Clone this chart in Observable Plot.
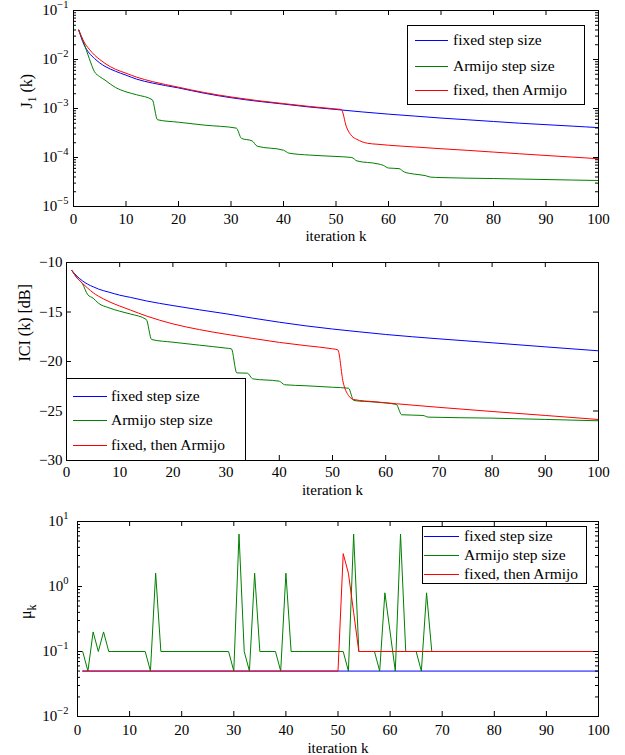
<!DOCTYPE html>
<html><head><meta charset="utf-8">
<script src="https://cdn.jsdelivr.net/npm/d3@7"></script>
<script src="https://cdn.jsdelivr.net/npm/@observablehq/plot@0.6"></script>
<style>
body{margin:0;background:#fff;}
#wrap{position:relative;width:625px;height:755px;overflow:hidden;font-family:"Liberation Serif","Times New Roman",serif;background:#fff;}
.legend{position:absolute;border:1px solid #000;background:#fff;box-sizing:border-box;}
.legend .ln{position:absolute;height:1px;}
.legend .tx{position:absolute;white-space:nowrap;font-size:15.5px;line-height:18px;color:#000;}
</style>
</head><body><div id="wrap"></div>
<script>
// ---------------- data ----------------
const seriesNames = ["fixed step size", "Armijo step size", "fixed, then Armijo"];
const seriesColors = ["#0000ff", "#008000", "#ff0000"];
const iterTicks = [0, 10, 20, 30, 40, 50, 60, 70, 80, 90, 100];
const xLabel = "iteration k";

// Panel 1: J1(k)
const J1_fixed_k = [1,2,3,4,5,6,8,10,12,15,20,25,30,35,40,45,50,55,60,65,70,75,80,85,90,95,100];
const J1_fixed = [0.0398,0.0200,0.0135,0.0105,0.00851,0.00724,0.00575,0.00479,0.00398,0.00331,0.00263,0.00204,0.00166,0.00141,0.00123,0.00107,0.000955,0.000851,0.000767,0.000700,0.000638,0.000589,0.000543,0.000501,0.000468,0.000437,0.000407];
const J1_armijo_k = [1,2,3,4,5,6,7,8,10,12,15,16,20,25,31,32,34,35,40,41,45,50,53,54,58,59,60,62,63,65,67,68,70,80,90,100];
const J1_armijo = [0.0398,0.0214,0.0105,0.00562,0.00447,0.00380,0.00316,0.00269,0.00219,0.00191,0.00151,0.000589,0.000525,0.000457,0.000398,0.000245,0.000219,0.000170,0.000141,0.000123,0.000112,0.000105,0.000100,0.0000851,0.0000741,0.0000692,0.0000610,0.0000593,0.0000506,0.0000457,0.0000427,0.0000398,0.0000389,0.0000372,0.0000355,0.0000339];
const J1_mixed_k = [1,2,3,4,5,6,8,10,12,15,20,25,30,35,40,45,50,51,52,53,54,55,56,58,60,65,70,75,80,85,90,95,100];
const J1_mixed = [0.0398,0.0229,0.0162,0.0123,0.0100,0.00832,0.00631,0.00525,0.00437,0.00355,0.00272,0.00211,0.00172,0.00145,0.00126,0.00110,0.000977,0.000955,0.000417,0.000275,0.000234,0.000209,0.000195,0.000186,0.000178,0.000164,0.000151,0.000140,0.000129,0.000119,0.000110,0.000102,0.0000944];
const J1_ticks = [1e-5, 1e-4, 1e-3, 1e-2, 1e-1];

// Panel 2: ICI(k) [dB]
const ICI_fixed_k = [1,2,3,4,5,6,8,10,12,15,20,25,30,35,40,45,50,55,60,70,80,90,100];
const ICI_fixed = [-10.8,-11.4,-11.85,-12.2,-12.45,-12.68,-13.0,-13.3,-13.52,-13.88,-14.35,-14.78,-15.18,-15.62,-16.03,-16.4,-16.72,-17.0,-17.27,-17.71,-18.11,-18.52,-18.92];
const ICI_armijo_k = [1,2,3,4,5,6,8,10,12,15,16,20,25,30,31,32,34,35,40,41,45,50,53,54,58,62,63,67,68,80,90,100];
const ICI_armijo = [-10.8,-11.58,-12.15,-13.26,-13.6,-14.11,-14.58,-14.92,-15.2,-15.76,-17.78,-18.05,-18.35,-18.65,-18.72,-21.15,-21.18,-21.75,-21.99,-22.35,-22.45,-22.6,-22.7,-23.94,-24.1,-24.34,-25.38,-25.45,-25.62,-25.72,-25.85,-25.99];
const ICI_mixed_k = [1,2,3,4,5,6,8,10,12,15,20,25,30,35,40,45,50,51,52,53,54,58,62,70,80,90,100];
const ICI_mixed = [-10.8,-11.55,-12.1,-12.6,-13.05,-13.4,-13.95,-14.4,-14.8,-15.4,-16.2,-16.78,-17.25,-17.67,-18.07,-18.4,-18.72,-18.82,-22.09,-23.43,-23.84,-24.07,-24.27,-24.63,-25.05,-25.45,-25.86];
const ICI_ticks = [-30, -25, -20, -15, -10];

// Panel 3: mu_k
const mu_fixed_k = [1, 100];
const mu_fixed = [0.05, 0.05];
const mu_armijo_k = [0,1,2,3,4,5,6,13,14,15,16,29,30,31,32,33,34,35,38,39,40,41,51,52,53,54,57,58,59,60,61,62,63,65,66,67,68,100];
const mu_armijo = [0.1,0.1,0.05,0.2,0.1,0.2,0.1,0.1,0.05,1.6,0.1,0.1,0.05,6.4,0.1,0.05,1.6,0.1,0.1,0.05,1.6,0.1,0.1,0.05,6.4,0.1,0.1,0.05,0.8,0.2,0.05,6.4,0.1,0.1,0.05,0.8,0.1,0.1];
const mu_mixed_k = [1,50,51,52,53,54,100];
const mu_mixed = [0.05,0.05,3.2,1.6,0.4,0.1,0.1];
const mu_ticks = [0.01, 0.1, 1, 10];

// ---------------- drawing ----------------
const NS = "http://www.w3.org/2000/svg";
const W = 625;
const FONT = '"Liberation Serif","Times New Roman",serif';
const zip = (ks, vs) => ks.map((k, i) => ({k, v: vs[i]}));
const minorOf = (majors) => {
  const out = [];
  for (let i = 0; i < majors.length - 1; i++) for (let m = 2; m <= 9; m++) out.push(majors[i] * m);
  return out;
};

function rich(textEl, parts) {
  textEl.textContent = "";
  let shift = 0;
  for (const [s, kind, sh, fs] of parts) {
    const t = document.createElementNS(NS, "tspan");
    t.textContent = s;
    const target = kind ? sh : 0;
    const dy = target - shift;
    if (dy) t.setAttribute("dy", dy + "px");
    if (kind) t.setAttribute("font-size", fs + "px");
    shift = target;
    textEl.appendChild(t);
  }
}

function panel(cfg) {
  const {series, top, height, mt, mb, ml, mr, yType, yDomain, yTicks, log, xPad, yPad, xlabDy, ylabel, ylabDx, curve, ylabParts} = cfg;
  const pw = W - ml - mr, ph = height - mt - mb;
  const marks = [];
  series.forEach((s, i) => marks.push(Plot.line(s, {x: "k", y: "v", stroke: seriesColors[i], strokeWidth: 1, curve})));
  marks.push(Plot.tickX(iterTicks, {x: d => d, insetTop: ph - 5, stroke: "black"}));
  marks.push(Plot.tickX(iterTicks, {x: d => d, insetBottom: ph - 5, stroke: "black"}));
  marks.push(Plot.tickY(yTicks, {y: d => d, insetRight: pw - 5, stroke: "black"}));
  marks.push(Plot.tickY(yTicks, {y: d => d, insetLeft: pw - 5, stroke: "black"}));
  if (log) {
    const mn = minorOf(yTicks);
    marks.push(Plot.tickY(mn, {y: d => d, insetRight: pw - 3, stroke: "black"}));
    marks.push(Plot.tickY(mn, {y: d => d, insetLeft: pw - 3, stroke: "black"}));
  }
  marks.push(Plot.frame({stroke: "black"}));
  marks.push(Plot.axisX({ticks: iterTicks, tickSize: 0, tickPadding: xPad, tickFormat: d => String(d), label: null}));
  marks.push(Plot.axisY({ticks: yTicks, tickSize: 0, tickPadding: yPad, label: null,
    tickFormat: log ? (d => "10^" + Math.round(Math.log10(d))) : (d => d3.format("")(d))}));
  marks.push(Plot.text([xLabel], {text: d => d, frameAnchor: "bottom", dy: xlabDy, lineAnchor: "bottom", fontSize: 15}));
  marks.push(Plot.text([ylabel], {text: d => d, frameAnchor: "left", dx: ylabDx, rotate: -90, lineAnchor: "bottom", fontSize: 16}));
  const svg = Plot.plot({
    width: W, height, marginTop: mt, marginBottom: mb, marginLeft: ml, marginRight: mr,
    x: {domain: [0, 100]},
    y: {type: yType, domain: yDomain},
    style: {fontFamily: FONT, fontSize: "15px", color: "black", background: "white"},
    marks
  });
  svg.style.position = "absolute";
  svg.style.left = "0px";
  svg.style.top = top + "px";
  if (log) {
    for (const t of svg.querySelectorAll('g[aria-label="y-axis tick label"] text')) {
      const m = t.textContent.match(/^10\^(.*)$/);
      if (!m) continue;
      rich(t, [["10", null], [m[1].replace("-", "\u2212"), "sup", -7.5, 10.5]]);
    }
  }
  if (ylabParts) {
    for (const t of svg.querySelectorAll("text")) {
      if (t.textContent === ylabel) { rich(t, ylabParts); break; }
    }
  }
  return svg;
}

const wrap = document.getElementById("wrap");

wrap.appendChild(panel({
  series: [zip(J1_fixed_k, J1_fixed), zip(J1_armijo_k, J1_armijo), zip(J1_mixed_k, J1_mixed)],
  top: 0, height: 250, mt: 10, mb: 44, ml: 73, mr: 27,
  yType: "log", yDomain: [1e-5, 1e-1], yTicks: J1_ticks, log: true,
  xPad: 7, yPad: 5, xlabDy: 34, ylabel: "J1(k)", ylabDx: -42, curve: "monotone-x",
  ylabParts: [["J", null], ["1", "sub", 4, 11.5], [" (k)", null]]
}));

wrap.appendChild(panel({
  series: [zip(ICI_fixed_k, ICI_fixed), zip(ICI_armijo_k, ICI_armijo), zip(ICI_mixed_k, ICI_mixed)],
  top: 250, height: 250, mt: 12, mb: 40, ml: 66, mr: 27,
  yType: "linear", yDomain: [-30, -10], yTicks: ICI_ticks, log: false,
  xPad: 6, yPad: 4, xlabDy: 34, ylabel: "ICI (k) [dB]", ylabDx: -37, curve: "monotone-x"
}));

wrap.appendChild(panel({
  series: [zip(mu_fixed_k, mu_fixed), zip(mu_armijo_k, mu_armijo), zip(mu_mixed_k, mu_mixed)],
  top: 500, height: 255, mt: 21, mb: 39, ml: 77, mr: 27,
  yType: "log", yDomain: [1e-2, 1e1], yTicks: mu_ticks, log: true,
  xPad: 8, yPad: 9, xlabDy: 36, ylabel: "\u03bck", ylabDx: -47, curve: "linear",
  ylabParts: [["\u03bc", null], ["k", "sub", 5, 12]]
}));

// ---------------- legends (HTML overlays) ----------------
function legend(box, rows, lineX1, lineX2, textX) {
  const d = document.createElement("div");
  d.className = "legend";
  d.style.left = box[0] + "px"; d.style.top = box[1] + "px";
  d.style.width = box[2] + "px"; d.style.height = box[3] + "px";
  rows.forEach((ry, i) => {
    const ln = document.createElement("div");
    ln.className = "ln";
    ln.style.background = seriesColors[i];
    ln.style.left = Math.round(lineX1 - box[0] - 1) + "px";
    ln.style.width = Math.round(lineX2 - lineX1) + "px";
    ln.style.top = Math.round(ry - box[1] - 1.5) + "px";
    d.appendChild(ln);
    const tx = document.createElement("div");
    tx.className = "tx";
    tx.textContent = seriesNames[i];
    tx.style.left = Math.round(textX - box[0] - 1) + "px";
    tx.style.top = Math.round(ry + 5 - 14.2 - box[1] - 1) + "px";
    d.appendChild(tx);
  });
  wrap.appendChild(d);
}
legend([407, 25, 178, 80], [40, 66, 90], 415, 448, 453);
legend([66, 378, 180, 83], [396, 420, 445], 73, 107, 111);
legend([422, 526, 165, 58], [536, 555, 574], 424, 459, 464);
</script>
</body></html>
